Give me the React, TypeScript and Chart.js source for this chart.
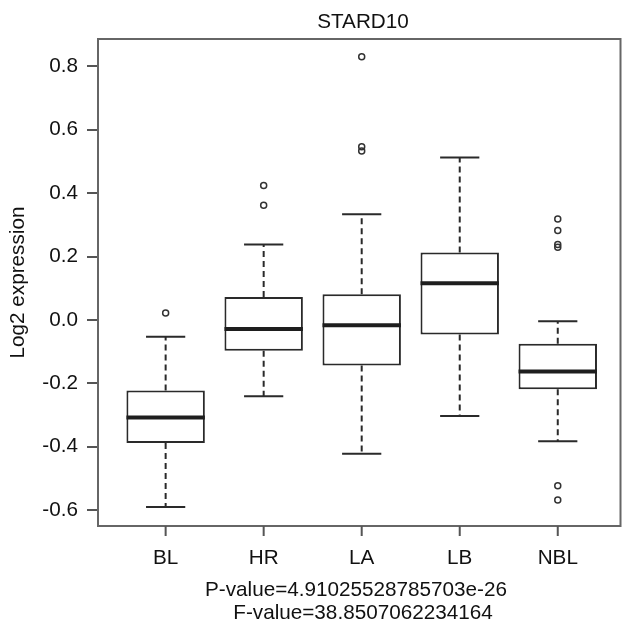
import React, { useEffect, useRef } from 'react';
import { Chart, registerables } from 'chart.js';

Chart.register(...registerables);

const categories = ['BL', 'HR', 'LA', 'LB', 'NBL'];
const lowerWhisker = [-0.590, -0.241, -0.422, -0.303, -0.383];
const q1 = [-0.388, -0.097, -0.144, -0.046, -0.219];
const median = [-0.308, -0.029, -0.017, 0.116, -0.163];
const q3 = [-0.223, 0.072, 0.081, 0.213, -0.075];
const upperWhisker = [-0.053, 0.238, 0.333, 0.512, -0.004];
const outliers = [
  [0.022],
  [0.424, 0.362],
  [0.830, 0.546, 0.533],
  [],
  [0.318, 0.282, 0.238, 0.229, -0.523, -0.568],
];
const yTicks = [-0.6, -0.4, -0.2, 0.0, 0.2, 0.4, 0.6, 0.8];
const titleText = 'STARD10';
const yTitleText = 'Log2 expression';
const pValueText = 'P-value=4.91025528785703e-26';
const fValueText = 'F-value=38.8507062234164';

const FONT = '"Liberation Sans", Arial, Helvetica, sans-serif';
const FSIZE = 20.7;
const INK = '#2a2a2a';

const boxPlugin = {
  id: 'boxExtras',
  afterDatasetsDraw(chart: any) {
    const ctx = chart.ctx;
    const xs = chart.scales.x;
    const ys = chart.scales.y;
    const half = xs.getPixelForValue(1.4) - xs.getPixelForValue(1);
    const capHalf = xs.getPixelForValue(1.2) - xs.getPixelForValue(1);
    ctx.save();
    categories.forEach((_, i) => {
      const cx = xs.getPixelForValue(i + 1);
      ctx.strokeStyle = INK;
      ctx.lineWidth = 2;
      ctx.setLineDash([6, 4]);
      ctx.beginPath();
      ctx.moveTo(cx, ys.getPixelForValue(q3[i]));
      ctx.lineTo(cx, ys.getPixelForValue(upperWhisker[i]));
      ctx.moveTo(cx, ys.getPixelForValue(q1[i]));
      ctx.lineTo(cx, ys.getPixelForValue(lowerWhisker[i]));
      ctx.stroke();
      ctx.setLineDash([]);
      ctx.beginPath();
      const yu = ys.getPixelForValue(upperWhisker[i]);
      const yl = ys.getPixelForValue(lowerWhisker[i]);
      ctx.moveTo(cx - capHalf, yu);
      ctx.lineTo(cx + capHalf, yu);
      ctx.moveTo(cx - capHalf, yl);
      ctx.lineTo(cx + capHalf, yl);
      ctx.stroke();
      ctx.lineWidth = 4;
      ctx.strokeStyle = '#1e1e1e';
      const ym = ys.getPixelForValue(median[i]);
      ctx.beginPath();
      ctx.moveTo(cx - half, ym);
      ctx.lineTo(cx + half, ym);
      ctx.stroke();
    });
    ctx.restore();
  },
  afterDraw(chart: any) {
    const ctx = chart.ctx;
    const a = chart.chartArea;
    const xs = chart.scales.x;
    ctx.save();
    ctx.strokeStyle = '#666';
    ctx.lineWidth = 2;
    ctx.strokeRect(a.left, a.top, a.right - a.left, a.bottom - a.top);
    ctx.strokeStyle = '#555';
    ctx.beginPath();
    categories.forEach((_, i) => {
      const px = xs.getPixelForValue(i + 1);
      ctx.moveTo(px, a.bottom);
      ctx.lineTo(px, a.bottom + 10);
    });
    ctx.stroke();
    ctx.fillStyle = '#111';
    ctx.font = `${FSIZE}px ${FONT}`;
    ctx.textAlign = 'center';
    ctx.textBaseline = 'middle';
    ctx.fillText(titleText, 363, 22);
    ctx.fillText(pValueText, 356, 590);
    ctx.fillText(fValueText, 363, 613);
    ctx.restore();
  },
};

export default function App() {
  const ref = useRef<HTMLCanvasElement | null>(null);
  useEffect(() => {
    if (!ref.current) return;
    const boxData = categories.map((_, i) => ({ x: i + 1, y: [q1[i], q3[i]] }));
    const outlierData: { x: number; y: number }[] = [];
    outliers.forEach((arr, i) => arr.forEach((v) => outlierData.push({ x: i + 1, y: v })));
    const chart = new Chart(ref.current, {
      type: 'bar',
      data: {
        datasets: [
          {
            type: 'bar',
            data: boxData as any,
            backgroundColor: '#ffffff',
            borderColor: INK,
            borderWidth: 2,
            borderSkipped: false,
            barPercentage: 0.8,
            categoryPercentage: 1,
            grouped: false,
          } as any,
          {
            type: 'scatter',
            data: outlierData as any,
            pointRadius: 3,
            pointHoverRadius: 3,
            borderWidth: 1.5,
            borderColor: '#333',
            backgroundColor: 'rgba(0,0,0,0)',
          } as any,
        ],
      },
      options: {
        responsive: false,
        animation: false,
        layout: { padding: { top: 39, right: 2.3, left: 0, bottom: 0 } },
        plugins: { legend: { display: false }, tooltip: { enabled: false }, title: { display: false } },
        scales: {
          x: {
            type: 'linear',
            min: 0.31,
            max: 5.64,
            offset: false,
            border: { display: false },
            grid: { offset: false, drawOnChartArea: false, drawTicks: true, tickLength: 10, color: 'rgba(0,0,0,0)', lineWidth: 2 },
            afterBuildTicks: (s: any) => {
              s.ticks = categories.map((_, i) => ({ value: i + 1 }));
            },
            afterFit: (s: any) => {
              s.height = 104;
            },
            ticks: {
              autoSkip: false,
              maxRotation: 0,
              padding: 10,
              color: '#111',
              font: { family: FONT, size: FSIZE },
              callback: (v: any) => categories[Math.round(Number(v)) - 1] ?? '',
            },
          },
          y: {
            type: 'linear',
            min: -0.65,
            max: 0.886,
            border: { display: false },
            grid: { offset: false, drawOnChartArea: false, drawTicks: true, tickLength: 11, color: '#555', lineWidth: 2 },
            afterBuildTicks: (s: any) => {
              s.ticks = yTicks.map((v) => ({ value: v }));
            },
            afterFit: (s: any) => {
              s.width = 98;
            },
            ticks: {
              padding: 9,
              color: '#111',
              font: { family: FONT, size: FSIZE },
              callback: (v: any) => Number(v).toFixed(1),
            },
            title: {
              display: true,
              text: yTitleText,
              color: '#111',
              font: { family: FONT, size: FSIZE },
              padding: { top: 6, bottom: 0 },
            },
          },
        },
      },
      plugins: [boxPlugin],
    } as any);
    return () => chart.destroy();
  }, []);
  return (
    <div style={{ position: 'absolute', left: 0, top: 0, width: 625, height: 630, background: '#fff' }}>
      <canvas ref={ref} width={625} height={630} style={{ display: 'block' }} />
    </div>
  );
}
